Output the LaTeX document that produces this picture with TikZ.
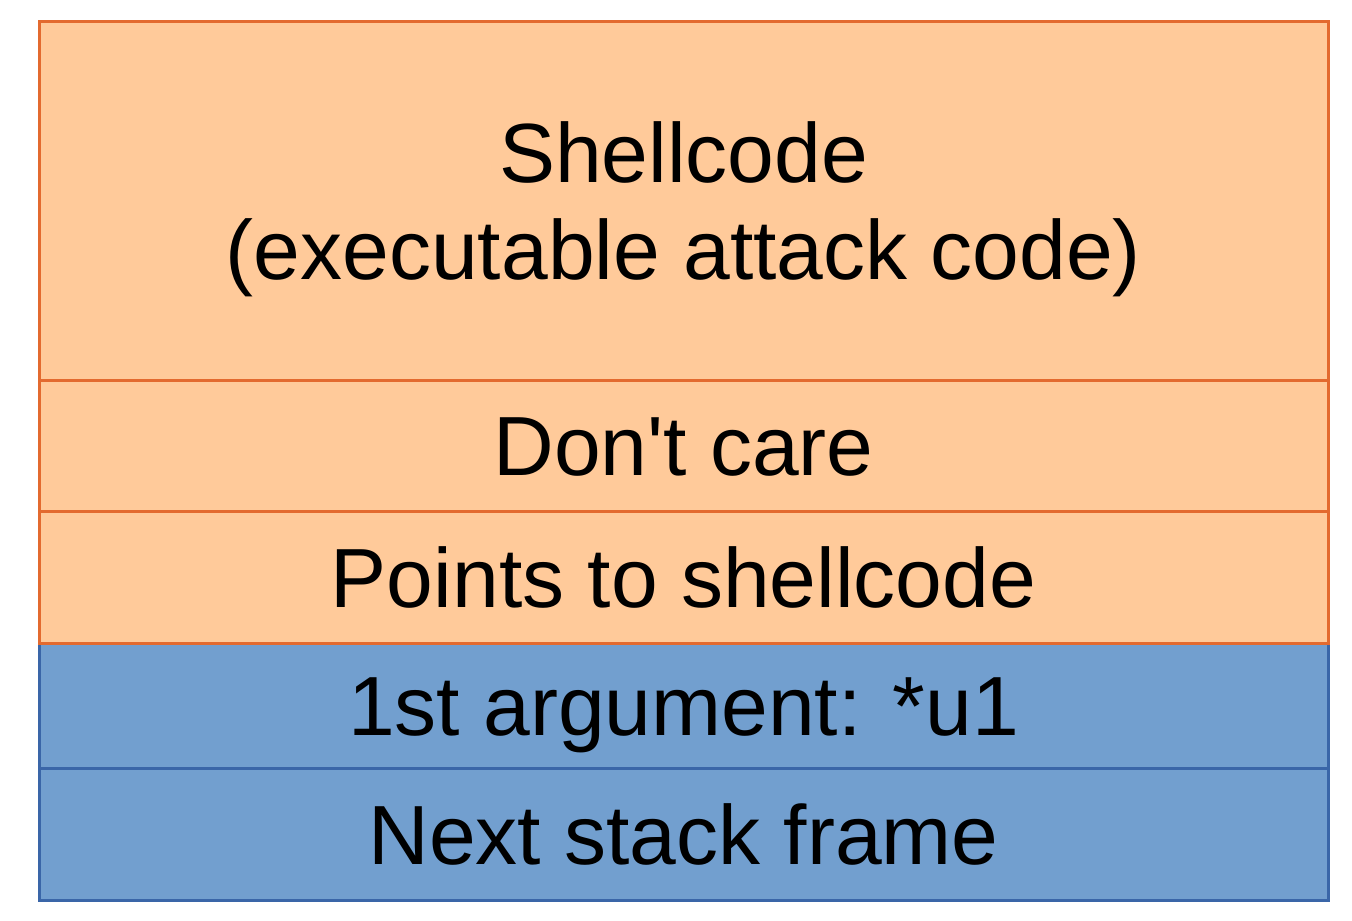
\documentclass[tikz,border=0pt]{standalone}
\usepackage{fontspec}
\setmainfont{Liberation Sans}
\usetikzlibrary{positioning}
\definecolor{payload}{HTML}{FFCA9A}
\definecolor{payloadline}{HTML}{E36A2F}
\definecolor{frame}{HTML}{729FCF}
\definecolor{frameline}{HTML}{3A66A8}
\tikzstyle{every node}+=[inner sep=0pt,outer sep=0pt,font=\fontsize{42}{48.5}\selectfont]
\tikzstyle{slot}=[draw,line width=1.5pt,minimum width=644.5pt,text depth=0pt]
\tikzstyle{single}=[text height=30pt]
\tikzstyle{payload slot}=[slot,fill=payload,draw=payloadline]
\tikzstyle{frame slot}=[slot,single,fill=frame,draw=frameline]

\begin{document}
\begin{tikzpicture}[x=0.5pt,y=-0.5pt]
    \useasboundingbox (0,0) rectangle (1352,920);

    % caller side of the stack, bottom up
    \node[frame slot,minimum height=66pt] (next) at (683.5,834) {Next stack frame};
    \node[frame slot,minimum height=62.5pt,above=0pt of next] (arg) {1st argument: *u1};

    % overflowed part
    \node[payload slot,single,minimum height=66pt,above=0pt of arg] (ret) {Points to shellcode};
    \node[payload slot,single,minimum height=65.5pt,above=0pt of ret] (care) {Don\textquotesingle t care};
    \node[payload slot,minimum height=179pt,above=0pt of care,align=center] (shell)
        {Shellcode\\(executable attack code)};
\end{tikzpicture}
\end{document}
